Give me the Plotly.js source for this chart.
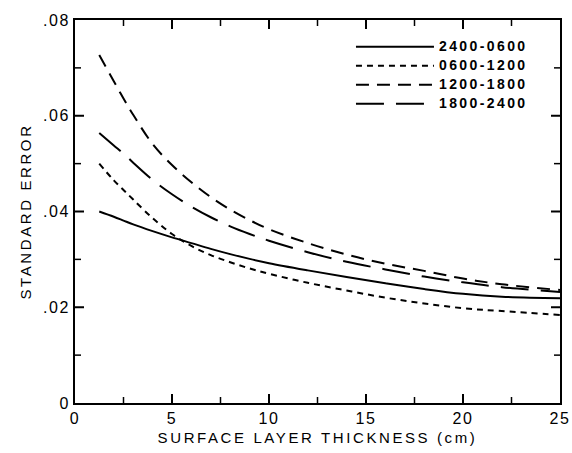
<!DOCTYPE html>
<html>
<head>
<meta charset="utf-8">
<script src="https://cdn.plot.ly/plotly-3.0.1.min.js"></script>
<style>
body { margin: 0; background: #fff; }
#chart { width: 572px; height: 453px; }
.xtitle, .ytitle { letter-spacing: 2.6px; }
.xtick text, .ytick text { letter-spacing: 1.5px; }
.legendtext { letter-spacing: 2.4px; font-size: 14px !important; }
</style>
</head>
<body>
<div id="chart"></div>
<script>
// Data
const thickness = [1.25, 2, 2.5, 3, 4, 5, 6, 7, 8, 9, 10, 12, 14, 16, 18, 20, 22, 25];
const se_2400_0600 = [0.0400, 0.0389, 0.0381, 0.0373, 0.0359, 0.0346, 0.0334, 0.0322, 0.0311, 0.0301, 0.0292, 0.0277, 0.0263, 0.0250, 0.0238, 0.0228, 0.0222, 0.0219];
const se_0600_1200 = [0.0500, 0.0465, 0.0445, 0.0425, 0.0386, 0.0353, 0.0328, 0.0309, 0.0294, 0.0281, 0.0270, 0.0251, 0.0235, 0.0220, 0.0208, 0.0198, 0.0192, 0.0184];
const se_1200_1800 = [0.0727, 0.0672, 0.0636, 0.0602, 0.0541, 0.0497, 0.0461, 0.0430, 0.0404, 0.0382, 0.0363, 0.0334, 0.0310, 0.0291, 0.0276, 0.0260, 0.0248, 0.0236];
const se_1800_2400 = [0.0564, 0.0538, 0.0521, 0.0502, 0.0466, 0.0436, 0.0410, 0.0388, 0.0369, 0.0353, 0.0339, 0.0315, 0.0295, 0.0279, 0.0264, 0.0252, 0.0242, 0.0232];
const seriesNames = ['2400-0600', '0600-1200', '1200-1800', '1800-2400'];
const xRange = [0, 25];
const yRange = [0, 0.08];
const xTickVals = [0, 5, 10, 15, 20, 25];
const yTickVals = [0, 0.02, 0.04, 0.06, 0.08];
const yTickText = ['0', '.02', '.04', '.06', '.08'];

const W = 572, H = 453, M = { l: 75, r: 12, t: 20, b: 50 };
const plotW = W - M.l - M.r, plotH = H - M.t - M.b;

const dashes = ['solid', '6px,5px', '13px,8px', '28px,12px'];
const ys = [se_2400_0600, se_0600_1200, se_1200_1800, se_1800_2400];
const traces = ys.map((y, i) => ({
  x: thickness, y: y, name: seriesNames[i], type: 'scatter', mode: 'lines',
  line: { color: '#000', width: 2, dash: dashes[i], shape: 'spline', smoothing: 1 }
}));

// Inward-pointing tick marks on all four sides (major at tick values, minor halfway between)
const xMinor = xTickVals.slice(1).map((v, i) => (v + xTickVals[i]) / 2);
const yMinor = yTickVals.slice(1).map((v, i) => (v + yTickVals[i]) / 2);
const tickShapes = [];
function addX(vals, lenPx, w) {
  const f = lenPx / plotH;
  vals.forEach(v => {
    tickShapes.push({ type: 'line', xref: 'x', yref: 'paper', x0: v, x1: v, y0: 0, y1: f, line: { color: '#000', width: w }, layer: 'above' });
    tickShapes.push({ type: 'line', xref: 'x', yref: 'paper', x0: v, x1: v, y0: 1, y1: 1 - f, line: { color: '#000', width: w }, layer: 'above' });
  });
}
function addY(vals, lenPx, w) {
  const f = lenPx / plotW;
  vals.forEach(v => {
    tickShapes.push({ type: 'line', xref: 'paper', yref: 'y', y0: v, y1: v, x0: 0, x1: f, line: { color: '#000', width: w }, layer: 'above' });
    tickShapes.push({ type: 'line', xref: 'paper', yref: 'y', y0: v, y1: v, x0: 1, x1: 1 - f, line: { color: '#000', width: w }, layer: 'above' });
  });
}
addX(xTickVals.slice(1, -1), 9, 2);
addX(xMinor, 6, 1.5);
addY(yTickVals.slice(1, -1), 9, 2);
addY(yMinor, 6, 1.5);

const font = { family: 'Liberation Sans, Arial, sans-serif', color: '#000' };
const layout = {
  width: W, height: H,
  margin: M,
  paper_bgcolor: '#fff', plot_bgcolor: '#fff',
  showlegend: true,
  legend: {
    x: 0.569, y: 0.968, xanchor: 'left', yanchor: 'top',
    bgcolor: 'rgba(0,0,0,0)', borderwidth: 0,
    font: Object.assign({}, font, { size: 11.3, weight: 'bold' }),
    itemwidth: 78, tracegroupgap: 0
  },
  xaxis: {
    range: xRange, tickmode: 'array', tickvals: xTickVals, ticks: '',
    showline: true, linecolor: '#000', linewidth: 2, mirror: true,
    showgrid: false, zeroline: false,
    tickfont: Object.assign({}, font, { size: 16 }),
    title: { text: 'SURFACE LAYER THICKNESS (cm)', font: Object.assign({}, font, { size: 15 }), standoff: 6 }
  },
  yaxis: {
    range: yRange, tickmode: 'array', tickvals: yTickVals, ticktext: yTickText, ticks: '',
    showline: true, linecolor: '#000', linewidth: 2, mirror: true,
    showgrid: false, zeroline: false,
    tickfont: Object.assign({}, font, { size: 16 }),
    title: { text: 'STANDARD ERROR', font: Object.assign({}, font, { size: 15 }), standoff: 8 }
  },
  shapes: tickShapes
};

Plotly.newPlot('chart', traces, layout, { displayModeBar: false, staticPlot: true });
</script>
</body>
</html>
